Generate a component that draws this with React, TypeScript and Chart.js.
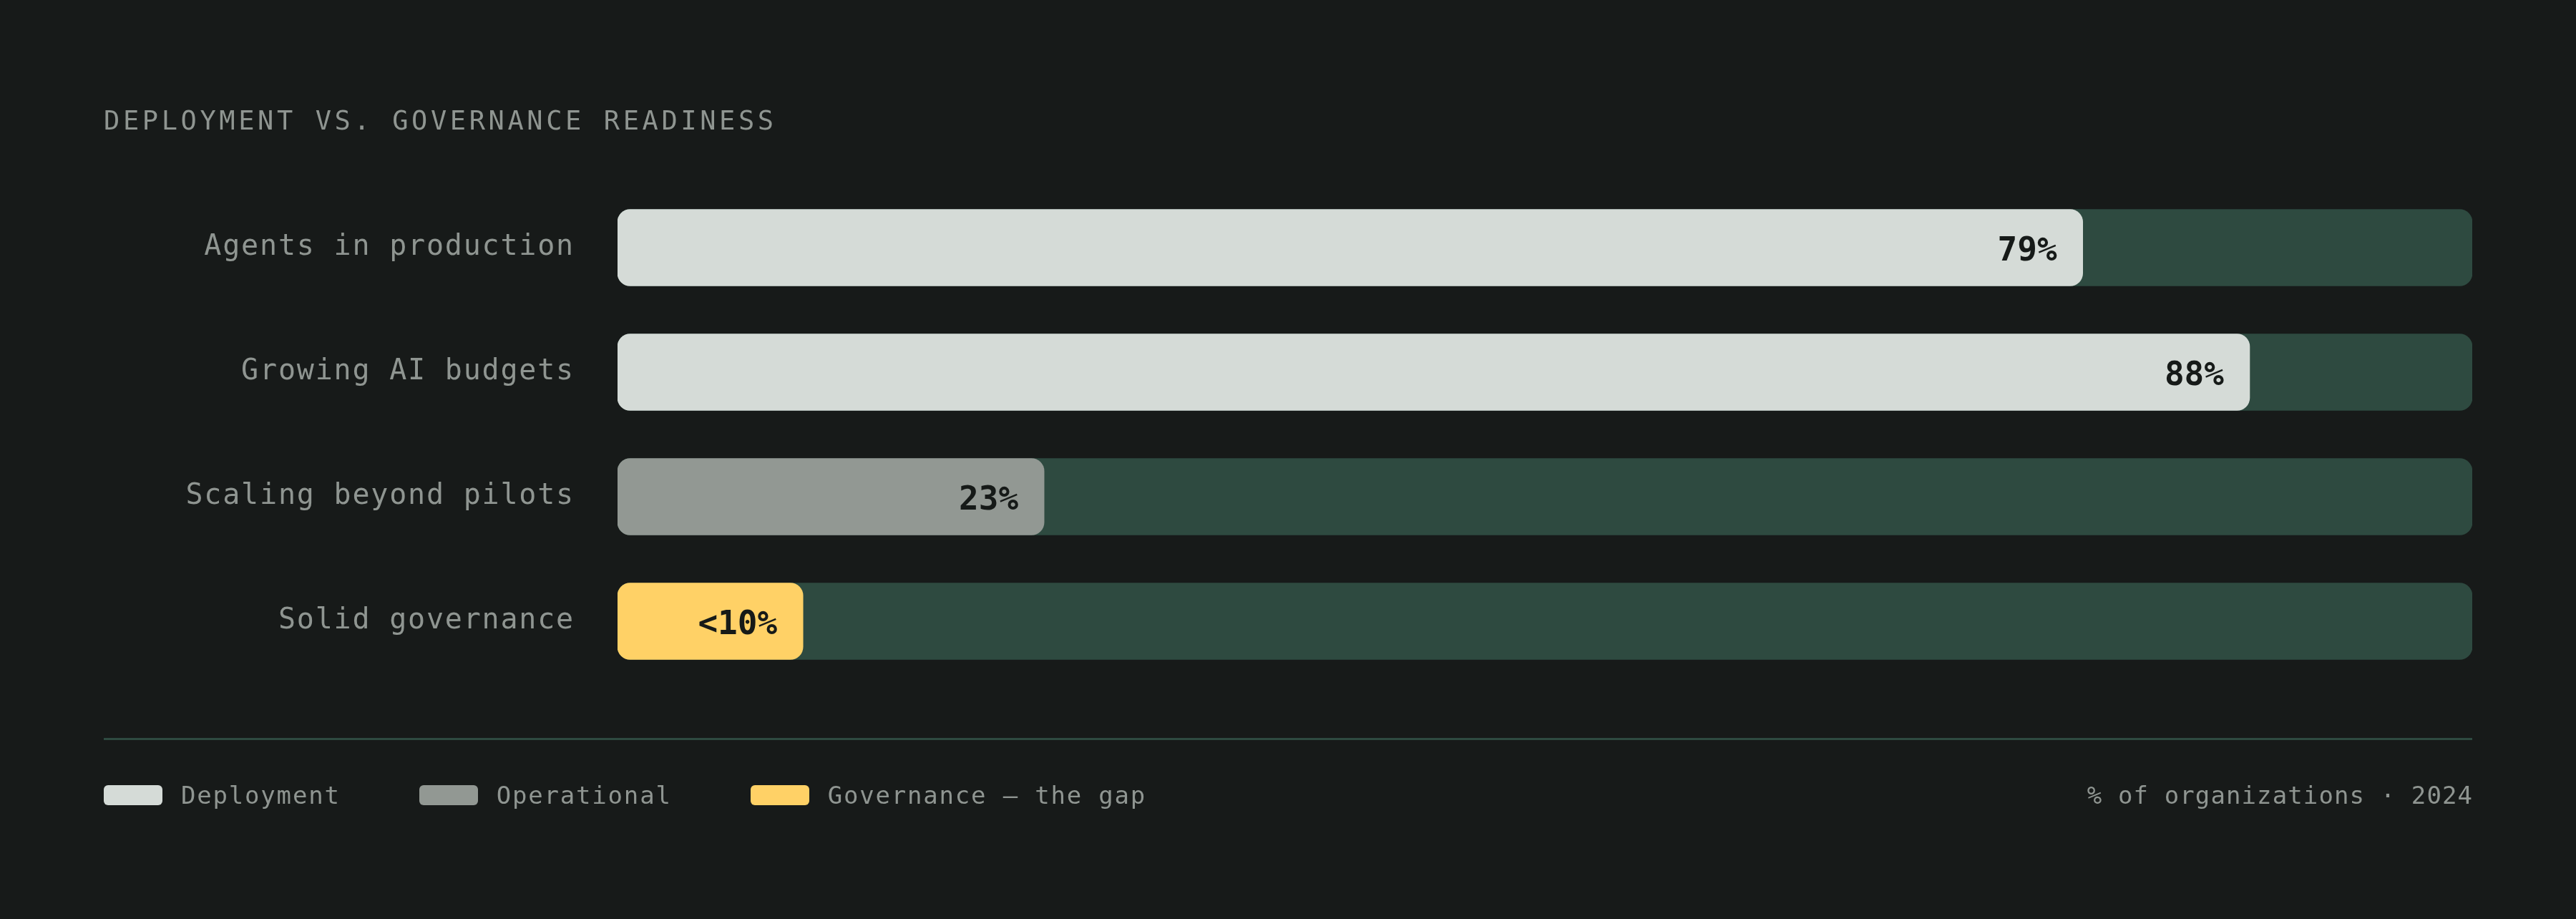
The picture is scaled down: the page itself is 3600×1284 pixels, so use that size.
import { useEffect, useRef } from "react";
import { Chart, registerables } from "chart.js";

Chart.register(...registerables);

const CATEGORIES = [
  "Agents in production",
  "Growing AI budgets",
  "Scaling beyond pilots",
  "Solid governance",
];
const VALUES = [79, 88, 23, 10];
const VALUE_LABELS = ["79%", "88%", "23%", "<10%"];
const TRACK = [100, 100, 100, 100];
// which legend group each bar belongs to
const BAR_GROUP = [0, 0, 1, 2];

const LEGEND_LABELS = ["Deployment", "Operational", "Governance — the gap"];
const LEGEND_COLORS = ["#d5dbd7", "#929893", "#ffd166"];

const TITLE = "DEPLOYMENT VS. GOVERNANCE READINESS";
const FOOTNOTE = "% of organizations · 2024";

const BG = "#171a19";
const TRACK_COLOR = "#2e4a40";
const MUTED = "#8f9591";
const INK = "#161a18";
const MONO = '"DejaVu Sans Mono", "Liberation Mono", monospace';

const valueLabels = {
  id: "valueLabels",
  beforeDraw(chart: Chart) {
    // axis labels in the reference are slightly tracked out
    (chart.ctx as any).letterSpacing = "1.8px";
  },
  afterDatasetsDraw(chart: Chart) {
    const ctx = chart.ctx;
    const meta = chart.getDatasetMeta(0);
    ctx.save();
    (ctx as any).letterSpacing = "0px";
    ctx.font = `bold 46px ${MONO}`;
    ctx.fillStyle = INK;
    ctx.textAlign = "right";
    ctx.textBaseline = "alphabetic";
    meta.data.forEach((bar: any, i: number) => {
      ctx.fillText(VALUE_LABELS[i], bar.x - 36, bar.y + 18);
    });
    ctx.restore();
  },
};

const App = () => {
  const chartRef = useRef<HTMLCanvasElement>(null);
  const chartInstance = useRef<Chart | null>(null);

  useEffect(() => {
    if (!chartRef.current) return;
    const ctx = chartRef.current.getContext("2d");
    if (!ctx) return;

    if (chartInstance.current) {
      chartInstance.current.destroy();
    }

    chartInstance.current = new Chart(ctx, {
      type: "bar",
      data: {
        labels: CATEGORIES,
        datasets: [
          {
            label: "Value",
            data: VALUES,
            backgroundColor: BAR_GROUP.map((g) => LEGEND_COLORS[g]),
            borderRadius: 18,
            borderSkipped: false,
            barThickness: 107,
            grouped: false,
            order: 0,
          },
          {
            label: "Track",
            data: TRACK,
            backgroundColor: TRACK_COLOR,
            borderRadius: 18,
            borderSkipped: false,
            barThickness: 107,
            grouped: false,
            order: 1,
          },
        ],
      },
      options: {
        indexAxis: "y",
        responsive: true,
        maintainAspectRatio: false,
        animation: false,
        events: [],
        layout: {
          padding: { top: 259, bottom: 329, left: 0, right: 145 },
        },
        scales: {
          x: {
            display: false,
            min: 0,
            max: 100,
          },
          y: {
            grid: { display: false, drawTicks: false },
            border: { display: false },
            ticks: {
              color: MUTED,
              padding: 60,
              font: { family: MONO, size: 40 },
            },
            afterFit: (scale) => {
              scale.width = 863;
            },
          },
        },
        plugins: {
          legend: { display: false },
          tooltip: { enabled: false },
        },
      },
      plugins: [valueLabels],
    });

    return () => {
      if (chartInstance.current) {
        chartInstance.current.destroy();
        chartInstance.current = null;
      }
    };
  }, []);

  return (
    <div
      style={{
        position: "absolute",
        left: 0,
        top: 0,
        width: 3600,
        height: 1284,
        background: BG,
        fontFamily: MONO,
        color: MUTED,
        overflow: "hidden",
      }}
    >
      <div style={{ position: "absolute", left: 0, top: 0, width: 3600, height: 1284 }}>
        <canvas ref={chartRef} />
      </div>

      <div
        style={{
          position: "absolute",
          left: 145,
          top: 147,
          fontSize: 37,
          lineHeight: "normal",
          letterSpacing: "4.6px",
          whiteSpace: "nowrap",
        }}
      >
        {TITLE}
      </div>

      <div
        style={{
          position: "absolute",
          left: 145,
          top: 1031,
          width: 3310,
          height: 3,
          background: TRACK_COLOR,
        }}
      />

      <div
        style={{
          position: "absolute",
          left: 145,
          top: 1091,
          height: 40,
          display: "flex",
          alignItems: "center",
          gap: 110,
          fontSize: 34,
          letterSpacing: "1.8px",
          whiteSpace: "nowrap",
        }}
      >
        {LEGEND_LABELS.map((label, i) => (
          <div key={label} style={{ display: "flex", alignItems: "center", gap: 26 }}>
            <span
              style={{
                display: "inline-block",
                width: 82,
                height: 28,
                borderRadius: 6,
                background: LEGEND_COLORS[i],
              }}
            />
            <span style={{ lineHeight: "normal" }}>{label}</span>
          </div>
        ))}
      </div>

      <div
        style={{
          position: "absolute",
          right: 145,
          top: 1091,
          height: 40,
          display: "flex",
          alignItems: "center",
          fontSize: 34,
          letterSpacing: "1.1px",
          whiteSpace: "nowrap",
        }}
      >
        <span style={{ lineHeight: "normal", marginRight: -1.1 }}>{FOOTNOTE}</span>
      </div>
    </div>
  );
};

export default App;
